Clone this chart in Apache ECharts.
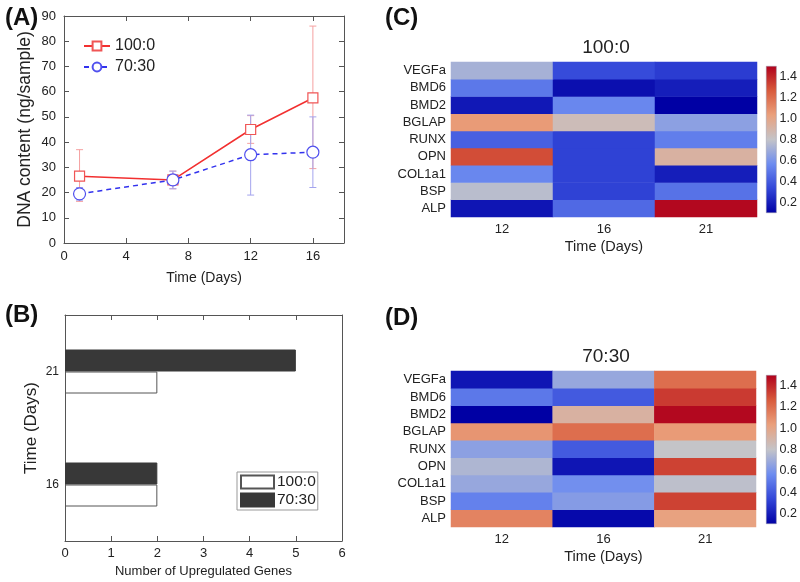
<!DOCTYPE html>
<html><head><meta charset="utf-8">
<script src="https://cdn.jsdelivr.net/npm/echarts@6/dist/echarts.min.js"></script>
<style>html,body{margin:0;padding:0;background:#fff}#c{width:800px;height:582px}</style>
</head><body><div id="c"></div>
<script>
// ---- Panel A: DNA content ----
const days = [1, 7, 12, 16];
const dna100 = [26.5, 25, 45, 57.5];
const dna100Lo = [16.5, 21.5, 39.5, 29.5];
const dna100Hi = [37, 28.5, 50.5, 86];
const dna7030 = [19.5, 25, 35, 36];
const dna7030Lo = [17, 21.5, 19, 22];
const dna7030Hi = [22, 28.5, 50.7, 50];

// ---- Panel B: upregulated genes ----
const upDays = ['16', '21'];
const up100 = [2, 2];
const up7030 = [2, 5];

// ---- Panels C, D: heatmaps ----
const genes = ['ALP', 'BSP', 'COL1a1', 'OPN', 'RUNX', 'BGLAP', 'BMD2', 'BMD6', 'VEGFa']; // bottom -> top
const hmDays = ['12', '16', '21'];
// rows follow genes; columns are days 12, 16, 21
const expr100 = [
  [0.17, 0.45, 1.48],
  [0.77, 0.32, 0.48],
  [0.55, 0.32, 0.20],
  [1.30, 0.32, 0.92],
  [0.42, 0.32, 0.52],
  [1.05, 0.85, 0.65],
  [0.18, 0.55, 0.10],
  [0.50, 0.15, 0.20],
  [0.72, 0.35, 0.30]
];
const expr7030 = [
  [1.13, 0.13, 1.02],
  [0.53, 0.63, 1.33],
  [0.68, 0.58, 0.78],
  [0.74, 0.17, 1.33],
  [0.65, 0.40, 0.80],
  [1.07, 1.20, 1.05],
  [0.10, 0.92, 1.48],
  [0.50, 0.40, 1.35],
  [0.17, 0.68, 1.20]
];
const cbTicks = [0.2, 0.4, 0.6, 0.8, 1.0, 1.2, 1.4];
const cbMin = 0.1, cbMax = 1.5;
const cmap = ['#0000a4', '#3246d8', '#6d8cf0', '#c4c4c8', '#eaa07c', '#d85a3c', '#b0001c'];

const FONT = '"Liberation Sans", Arial, sans-serif';
const AX = '#555';

const chart = echarts.init(document.getElementById('c'));

function hmData(m) {
  const out = [];
  m.forEach((row, i) => row.forEach((v, j) => out.push([j, i, v])));
  return out;
}
function errRender(params, api) {
  const x = api.value(0), lo = api.value(1), hi = api.value(2);
  const pLo = api.coord([x, lo]), pHi = api.coord([x, hi]);
  const w = 3.5;
  const st = { stroke: api.visual('color'), lineWidth: 1, fill: null };
  return { type: 'group', children: [
    { type: 'line', shape: { x1: pLo[0], y1: pLo[1], x2: pHi[0], y2: pHi[1] }, style: st },
    { type: 'line', shape: { x1: pHi[0] - w, y1: pHi[1], x2: pHi[0] + w, y2: pHi[1] }, style: st },
    { type: 'line', shape: { x1: pLo[0] - w, y1: pLo[1], x2: pLo[0] + w, y2: pLo[1] }, style: st }
  ]};
}
const gradStops = cmap.map((c, i) => ({ offset: i / (cmap.length - 1), color: c }));

function boxAxis(extra) {
  return Object.assign({
    axisLine: { show: true, onZero: false, lineStyle: { color: AX, width: 1 } },
    axisTick: { show: true, inside: true, length: 5, lineStyle: { color: AX } },
    axisLabel: { color: '#222', fontSize: 13, fontFamily: FONT },
    splitLine: { show: false }
  }, extra);
}
function hiddenLabels(a) { a.axisLabel = { show: false }; return a; }

const option = {
  animation: false,
  backgroundColor: '#fff',
  textStyle: { fontFamily: FONT },
  title: [
    { text: '(A)', left: 0, top: 1, textStyle: { fontSize: 24, fontWeight: 'bold', color: '#111', fontFamily: FONT } },
    { text: '(B)', left: 0, top: 298, textStyle: { fontSize: 24, fontWeight: 'bold', color: '#111', fontFamily: FONT } },
    { text: '(C)', left: 380, top: 1, textStyle: { fontSize: 24, fontWeight: 'bold', color: '#111', fontFamily: FONT } },
    { text: '(D)', left: 380, top: 301, textStyle: { fontSize: 24, fontWeight: 'bold', color: '#111', fontFamily: FONT } },
    { text: '100:0', left: 601, top: 33, textAlign: 'center', textStyle: { fontSize: 19, fontWeight: 'normal', color: '#222', fontFamily: FONT } },
    { text: '70:30', left: 601, top: 342, textAlign: 'center', textStyle: { fontSize: 19, fontWeight: 'normal', color: '#222', fontFamily: FONT } }
  ],
  legend: [
    {
      data: ['100:0', '70:30'], left: 78, top: 33, orient: 'vertical',
      itemWidth: 26, itemHeight: 11, itemGap: 5,
      textStyle: { fontSize: 16, color: '#222', fontFamily: FONT }, selectedMode: false
    },
    {
      data: ['b100:0', 'b70:30'], left: 237, top: 472, orient: 'vertical',
      icon: 'rect', itemWidth: 33, itemHeight: 13, itemGap: 2, padding: [2, 2, 2, 3],
      borderColor: '#999', borderWidth: 1,
      formatter: n => n.slice(1),
      textStyle: { fontSize: 15.5, color: '#222', fontFamily: FONT, padding: [0, 0, 0, -2] }, selectedMode: false
    }
  ],
  grid: [
    { left: 64, top: 16, width: 280, height: 227 },
    { left: 65, top: 315, width: 277, height: 226 },
    { left: 451, top: 62, width: 306, height: 155 },
    { left: 451, top: 371, width: 305, height: 156 },
    { left: 766, top: 66, width: 11, height: 147 },
    { left: 766, top: 375, width: 11, height: 149 }
  ],
  xAxis: [
    boxAxis({ gridIndex: 0, type: 'value', min: 0, max: 18, interval: 4, position: 'bottom',
      axisLabel: { color: '#222', fontSize: 13, fontFamily: FONT, margin: 7, showMaxLabel: false },
      name: 'Time (Days)', nameLocation: 'middle', nameGap: 28,
      nameTextStyle: { fontSize: 14, color: '#222', fontFamily: FONT } }),
    hiddenLabels(boxAxis({ gridIndex: 0, type: 'value', min: 0, max: 18, interval: 4, position: 'top' })),
    boxAxis({ gridIndex: 1, type: 'value', min: 0, max: 6, interval: 1, position: 'bottom',
      axisLabel: { color: '#222', fontSize: 13, fontFamily: FONT, margin: 6 },
      name: 'Number of Upregulated Genes', nameLocation: 'middle', nameGap: 24,
      nameTextStyle: { fontSize: 13, color: '#222', fontFamily: FONT } }),
    hiddenLabels(boxAxis({ gridIndex: 1, type: 'value', min: 0, max: 6, interval: 1, position: 'top' })),
    { gridIndex: 2, type: 'category', data: hmDays, axisLine: { show: false }, axisTick: { show: false },
      axisLabel: { fontSize: 13, color: '#222', margin: 6 },
      name: 'Time (Days)', nameLocation: 'middle', nameGap: 22,
      nameTextStyle: { fontSize: 14.5, color: '#222', fontFamily: FONT } },
    { gridIndex: 3, type: 'category', data: hmDays, axisLine: { show: false }, axisTick: { show: false },
      axisLabel: { fontSize: 13, color: '#222', margin: 6 },
      name: 'Time (Days)', nameLocation: 'middle', nameGap: 22,
      nameTextStyle: { fontSize: 14.5, color: '#222', fontFamily: FONT } },
    { gridIndex: 4, type: 'category', data: ['cb'], show: false },
    { gridIndex: 5, type: 'category', data: ['cb'], show: false }
  ],
  yAxis: [
    boxAxis({ gridIndex: 0, type: 'value', min: 0, max: 90, interval: 10, position: 'left',
      axisLabel: { color: '#222', fontSize: 13, fontFamily: FONT, margin: 8 },
      name: 'DNA content (ng/sample)', nameLocation: 'middle', nameGap: 30,
      nameTextStyle: { fontSize: 17.5, color: '#222', fontFamily: FONT } }),
    hiddenLabels(boxAxis({ gridIndex: 0, type: 'value', min: 0, max: 90, interval: 10, position: 'right' })),
    { gridIndex: 1, type: 'category', data: upDays, position: 'left',
      axisLine: { show: true, onZero: false, lineStyle: { color: AX } }, axisTick: { show: false },
      axisLabel: { fontSize: 12, color: '#222', margin: 6 },
      name: 'Time (Days)', nameLocation: 'middle', nameGap: 25,
      nameTextStyle: { fontSize: 17, color: '#222', fontFamily: FONT } },
    { gridIndex: 1, type: 'category', data: upDays, position: 'right',
      axisLine: { show: true, onZero: false, lineStyle: { color: AX } }, axisTick: { show: false },
      axisLabel: { show: false } },
    { gridIndex: 2, type: 'category', data: genes, axisLine: { show: false }, axisTick: { show: false },
      axisLabel: { fontSize: 13, color: '#222', margin: 5 } },
    { gridIndex: 3, type: 'category', data: genes, axisLine: { show: false }, axisTick: { show: false },
      axisLabel: { fontSize: 13, color: '#222', margin: 5 } },
    { gridIndex: 4, type: 'value', min: cbMin, max: cbMax, position: 'right',
      axisLine: { show: false }, axisTick: { show: false }, splitLine: { show: false },
      axisLabel: { customValues: cbTicks, formatter: v => v.toFixed(1), fontSize: 12.5, color: '#222', margin: 3 } },
    { gridIndex: 5, type: 'value', min: cbMin, max: cbMax, position: 'right',
      axisLine: { show: false }, axisTick: { show: false }, splitLine: { show: false },
      axisLabel: { customValues: cbTicks, formatter: v => v.toFixed(1), fontSize: 12.5, color: '#222', margin: 3 } }
  ],
  visualMap: [
    { show: false, type: 'continuous', seriesIndex: 6, dimension: 2, min: cbMin, max: cbMax, inRange: { color: cmap } },
    { show: false, type: 'continuous', seriesIndex: 7, dimension: 2, min: cbMin, max: cbMax, inRange: { color: cmap } }
  ],
  series: [
    { name: 'err100', type: 'custom', xAxisIndex: 0, yAxisIndex: 0, renderItem: errRender,
      itemStyle: { color: '#f5a0a0' }, encode: { x: 0, y: [1, 2] }, z: 1,
      data: days.map((d, i) => [d, dna100Lo[i], dna100Hi[i]]) },
    { name: 'err7030', type: 'custom', xAxisIndex: 0, yAxisIndex: 0, renderItem: errRender,
      itemStyle: { color: '#a4a4ee' }, encode: { x: 0, y: [1, 2] }, z: 1,
      data: days.map((d, i) => [d, dna7030Lo[i], dna7030Hi[i]]) },
    { name: '100:0', type: 'line', xAxisIndex: 0, yAxisIndex: 0, z: 3,
      symbol: 'rect', symbolSize: 10, showAllSymbol: true,
      itemStyle: { color: '#ffffff', borderColor: '#f05555', borderWidth: 1.2 },
      lineStyle: { color: '#f23030', width: 1.5 },
      data: days.map((d, i) => [d, dna100[i]]) },
    { name: '70:30', type: 'line', xAxisIndex: 0, yAxisIndex: 0, z: 3,
      symbol: 'circle', symbolSize: 12, showAllSymbol: true,
      itemStyle: { color: '#ffffff', borderColor: '#5050ee', borderWidth: 1.2 },
      lineStyle: { color: '#3232ee', width: 1.5, type: [5, 4] },
      data: days.map((d, i) => [d, dna7030[i]]) },
    { name: 'b70:30', type: 'bar', xAxisIndex: 2, yAxisIndex: 2, barWidth: 22, barGap: '0%',
      itemStyle: { color: '#383838', borderColor: '#383838', borderWidth: 1 },
      data: up7030 },
    { name: 'b100:0', type: 'bar', xAxisIndex: 2, yAxisIndex: 2, barWidth: 22, barGap: '0%',
      itemStyle: { color: '#ffffff', borderColor: '#555555', borderWidth: 1 },
      data: up100 },
    { name: 'hmC', type: 'heatmap', xAxisIndex: 4, yAxisIndex: 4, data: hmData(expr100),
      itemStyle: { borderWidth: 0 }, emphasis: { disabled: true } },
    { name: 'hmD', type: 'heatmap', xAxisIndex: 5, yAxisIndex: 5, data: hmData(expr7030),
      itemStyle: { borderWidth: 0 }, emphasis: { disabled: true } },
    { name: 'cbBaseC', type: 'bar', xAxisIndex: 6, yAxisIndex: 6, stack: 'cbC', barWidth: '100%',
      itemStyle: { color: 'rgba(0,0,0,0)' }, data: [cbMin] },
    { name: 'cbC', type: 'bar', xAxisIndex: 6, yAxisIndex: 6, stack: 'cbC', barWidth: '100%',
      itemStyle: { color: new echarts.graphic.LinearGradient(0, 1, 0, 0, gradStops), borderColor: '#99a', borderWidth: 0.5 },
      data: [cbMax - cbMin] },
    { name: 'cbBaseD', type: 'bar', xAxisIndex: 7, yAxisIndex: 7, stack: 'cbD', barWidth: '100%',
      itemStyle: { color: 'rgba(0,0,0,0)' }, data: [cbMin] },
    { name: 'cbD', type: 'bar', xAxisIndex: 7, yAxisIndex: 7, stack: 'cbD', barWidth: '100%',
      itemStyle: { color: new echarts.graphic.LinearGradient(0, 1, 0, 0, gradStops), borderColor: '#99a', borderWidth: 0.5 },
      data: [cbMax - cbMin] }
  ]
};
chart.setOption(option);
</script>
</body></html>
